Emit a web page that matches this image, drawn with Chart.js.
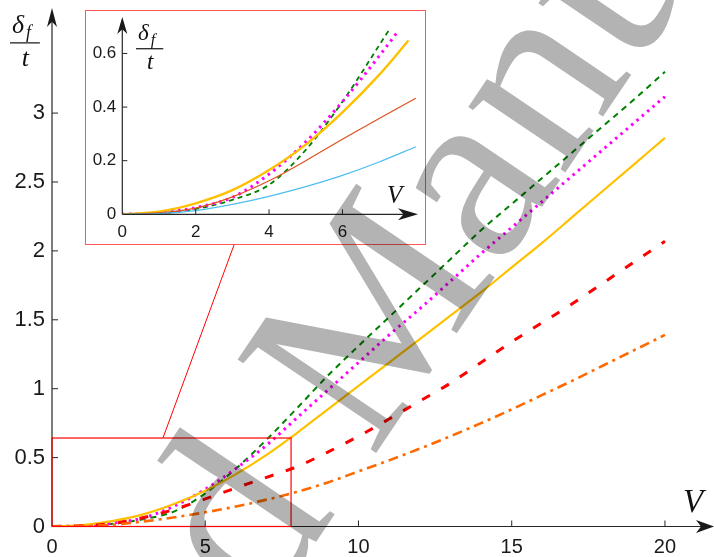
<!DOCTYPE html>
<html>
<head>
<meta charset="utf-8">
<script src="https://cdn.jsdelivr.net/npm/chart.js@4.4.0/dist/chart.umd.min.js"></script>
<style>
  html, body { margin: 0; padding: 0; background: #fff; }
  #wrap { position: relative; width: 714px; height: 557px; overflow: hidden; }
  #main { position: absolute; left: 0; top: 0; }
  #insetBox { position: absolute; left: 85px; top: 10px; width: 339px; height: 233px; border: 1px solid #f55; background: #fff; }
  #inset { position: absolute; left: 0; top: 0; }
  #mark { position: absolute; left: 0; top: 0; mix-blend-mode: multiply; pointer-events: none; }
</style>
</head>
<body>
<div id="wrap">
  <canvas id="main" width="714" height="557"></canvas>
  <div id="insetBox"><canvas id="inset" width="339" height="233"></canvas></div>
  <canvas id="mark" width="714" height="557"></canvas>
</div>
<script>
// main plot data, V = 0..20
const vValues = [0, 1, 2, 3, 4, 5, 6, 7, 8, 9, 10, 11, 12, 13, 14, 15, 16, 17, 18, 19, 20];
const greenDash = [0, 0.003, 0.02, 0.054, 0.11, 0.24, 0.42, 0.63, 0.86, 1.095, 1.31, 1.52, 1.73, 1.94, 2.15, 2.34, 2.53, 2.72, 2.91, 3.10, 3.30];
const magentaDot = [0, 0.005, 0.025, 0.063, 0.15, 0.27, 0.42, 0.59, 0.79, 0.99, 1.19, 1.39, 1.58, 1.78, 1.98, 2.17, 2.36, 2.55, 2.74, 2.93, 3.12];
const goldSolid = [0, 0.01, 0.041, 0.09, 0.165, 0.26, 0.38, 0.52, 0.68, 0.85, 1.02, 1.19, 1.36, 1.53, 1.70, 1.88, 2.06, 2.25, 2.44, 2.63, 2.82];
const redDash = [0, 0.005, 0.023, 0.065, 0.125, 0.2, 0.28, 0.357, 0.435, 0.54, 0.655, 0.78, 0.91, 1.04, 1.19, 1.34, 1.48, 1.62, 1.77, 1.92, 2.07];
const orangeDashDot = [0, 0.003, 0.014, 0.037, 0.067, 0.103, 0.145, 0.195, 0.252, 0.32, 0.40, 0.48, 0.565, 0.655, 0.75, 0.85, 0.955, 1.06, 1.17, 1.28, 1.39];

const xTicks = [0, 5, 10, 15, 20];
const yTicks = [0, 0.5, 1, 1.5, 2, 2.5, 3];

// inset: same curves up to V ~ 8, last point of each
const insetEndV = [7.3, 7.5, 7.8, 8, 8];      // green, magenta, gold, red, blue
const insetEndY = [0.694, 0.68, 0.648, 0.433, 0.252];
const insetXTicks = [0, 2, 4, 6];
const insetYTicks = [0, 0.2, 0.4, 0.6];

// zoom box on the main plot
const zoomBoxV = 7.8;
const zoomBoxY = 0.642;

Chart.defaults.font.family = "'Liberation Sans', Arial, sans-serif";

function pts(ys, n) {
  const out = [];
  for (let i = 0; i < n; i++) out.push({ x: vValues[i], y: ys[i] });
  return out;
}

function arrow(ctx, x, y, dx, dy, len, hw) {
  const px = -dy, py = dx;
  const bx = x - dx * len, by = y - dy * len;
  const nx = x - dx * len * 0.72, ny = y - dy * len * 0.72;
  ctx.beginPath();
  ctx.moveTo(x, y);
  ctx.lineTo(bx + px * hw, by + py * hw);
  ctx.lineTo(nx, ny);
  ctx.lineTo(bx - px * hw, by - py * hw);
  ctx.closePath();
  ctx.fill();
}

function drawAxes(chart, o) {
  const ctx = chart.ctx;
  const xs = chart.scales.x, ys = chart.scales.y;
  const x0 = xs.getPixelForValue(0), y0 = ys.getPixelForValue(0);
  ctx.save();
  ctx.strokeStyle = '#262626';
  ctx.fillStyle = '#1a1a1a';
  ctx.lineWidth = 1.2;
  ctx.beginPath();
  ctx.moveTo(x0, y0); ctx.lineTo(o.xTip - 4, y0);
  ctx.moveTo(x0, y0); ctx.lineTo(x0, o.yTip + 4);
  ctx.stroke();
  ctx.lineWidth = 1;
  ctx.beginPath();
  o.xt.forEach(v => { if (v === 0) return; const p = xs.getPixelForValue(v); ctx.moveTo(p, y0); ctx.lineTo(p, y0 - o.tick); });
  o.yt.forEach(v => { if (v === 0) return; const p = ys.getPixelForValue(v); ctx.moveTo(x0, p); ctx.lineTo(x0 + o.tick, p); });
  ctx.stroke();
  arrow(ctx, o.xTip, y0, 1, 0, o.xLen, o.xHw);
  arrow(ctx, x0, o.yTip, 0, -1, o.yLen, o.yHw);
  ctx.restore();
}

function fracLabel(ctx, x, yBase, size, subSize) {
  ctx.save();
  ctx.fillStyle = '#111';
  ctx.font = 'italic ' + size + 'px "Liberation Serif", "DejaVu Serif", serif';
  ctx.textBaseline = 'alphabetic';
  ctx.fillText('δ', x + 1, yBase);
  const w = ctx.measureText('δ').width;
  ctx.font = 'italic ' + subSize + 'px "Liberation Serif", serif';
  ctx.fillText('f', x + 1 + w + 2, yBase + subSize * 0.3);
  const total = w + subSize * 0.6 + 6;
  ctx.strokeStyle = '#111';
  ctx.lineWidth = 1.2;
  ctx.beginPath();
  ctx.moveTo(x - 1, yBase + size * 0.38);
  ctx.lineTo(x + total, yBase + size * 0.38);
  ctx.stroke();
  ctx.font = 'italic ' + size + 'px "Liberation Serif", serif';
  ctx.textAlign = 'center';
  ctx.fillText('t', x + total / 2, yBase + size * 1.25);
  ctx.restore();
}

const mainDecor = {
  id: 'mainDecor',
  afterDraw(chart) {
    const ctx = chart.ctx;
    drawAxes(chart, { xTip: 714, yTip: 8, xLen: 18, xHw: 6.5, yLen: 19, yHw: 5, tick: 6, xt: xTicks, yt: yTicks });
    const xs = chart.scales.x, ys = chart.scales.y;
    // zoom box and connector to inset
    ctx.save();
    ctx.strokeStyle = '#ff0000';
    ctx.lineWidth = 1.2;
    const l = xs.getPixelForValue(0), r = xs.getPixelForValue(zoomBoxV);
    const t = ys.getPixelForValue(zoomBoxY), b = ys.getPixelForValue(0);
    ctx.strokeRect(l, t, r - l, b - t);
    ctx.lineWidth = 1;
    ctx.beginPath();
    ctx.moveTo(xs.getPixelForValue(3.62), t);
    ctx.lineTo(234, 245);
    ctx.stroke();
    ctx.restore();
    fracLabel(ctx, 11, 33, 26, 18);
    ctx.save();
    ctx.fillStyle = '#111';
    ctx.font = 'italic 33px "Liberation Serif", serif';
    ctx.fillText('V', 683, 512);
    ctx.restore();
  }
};

const insetDecor = {
  id: 'insetDecor',
  afterDraw(chart) {
    const ctx = chart.ctx;
    drawAxes(chart, { xTip: 332, yTip: 6, xLen: 20, xHw: 6, yLen: 17, yHw: 5, tick: 5, xt: insetXTicks, yt: insetYTicks });
    fracLabel(ctx, 51, 29, 23, 16);
    ctx.save();
    ctx.fillStyle = '#111';
    ctx.font = 'italic 25px "Liberation Serif", serif';
    ctx.fillText('V', 301, 192);
    ctx.restore();
  }
};

function axisOpts(min, max, ticks, fitSize, isY, fontSize, pad) {
  return {
    type: 'linear', min: min, max: max,
    grid: { display: false, drawTicks: false },
    border: { display: false },
    afterBuildTicks: s => { s.ticks = ticks.map(v => ({ value: v })); },
    afterFit: s => {
      if (isY) s.width = fitSize; else s.height = fitSize;
      s.paddingTop = 0; s.paddingBottom = 0; s.paddingLeft = 0; s.paddingRight = 0;
    },
    ticks: { padding: pad, color: '#1a1a1a', maxRotation: 0, font: { size: fontSize }, callback: v => String(v) }
  };
}

const n = vValues.length;
new Chart(document.getElementById('main'), {
  type: 'line',
  data: {
    datasets: [
      { data: pts(orangeDashDot, n), borderColor: '#ff6a00', borderWidth: 2.6, borderDash: [10, 5, 3, 5] },
      { data: pts(redDash, n), borderColor: '#ff0000', borderWidth: 3, borderDash: [9, 13] },
      { data: pts(goldSolid, n), borderColor: '#ffc000', borderWidth: 2.2 },
      { data: pts(magentaDot, n), borderColor: '#ff00ff', borderWidth: 3, borderDash: [2.5, 4.5] },
      { data: pts(greenDash, n), borderColor: '#008000', borderWidth: 2, borderDash: [6, 5] }
    ]
  },
  options: {
    responsive: false, animation: false, devicePixelRatio: 1,
    layout: { padding: { top: 10, right: 0, left: 0, bottom: 0 } },
    plugins: { legend: { display: false }, tooltip: { enabled: false } },
    elements: { point: { radius: 0 }, line: { cubicInterpolationMode: 'monotone', fill: false } },
    scales: {
      x: axisOpts(0, 21.6, xTicks, 30.5, false, 20, 9),
      y: axisOpts(0, 3.748, yTicks, 52, true, 22, 7)
    }
  },
  plugins: [mainDecor]
});

function insetPts(ys, k) {
  const out = [];
  for (let i = 0; i < n && vValues[i] < insetEndV[k]; i++) out.push({ x: vValues[i], y: ys[i] });
  out.push({ x: insetEndV[k], y: insetEndY[k] });
  return out;
}

new Chart(document.getElementById('inset'), {
  type: 'line',
  data: {
    datasets: [
      { data: insetPts(orangeDashDot, 4), borderColor: '#4dbeee', borderWidth: 1.2 },
      { data: insetPts(redDash, 3), borderColor: '#e0501e', borderWidth: 1.2 },
      { data: insetPts(goldSolid, 2), borderColor: '#ffc000', borderWidth: 2.4 },
      { data: insetPts(magentaDot, 1), borderColor: '#ff00ff', borderWidth: 3, borderDash: [2.5, 4.5] },
      { data: insetPts(greenDash, 0), borderColor: '#008000', borderWidth: 1.8, borderDash: [5, 4] }
    ]
  },
  options: {
    responsive: false, animation: false, devicePixelRatio: 1,
    layout: { padding: { top: 6, right: 7, left: 0, bottom: 0 } },
    plugins: { legend: { display: false }, tooltip: { enabled: false } },
    elements: { point: { radius: 0 }, line: { cubicInterpolationMode: 'monotone', fill: false } },
    scales: {
      x: axisOpts(0, 8.06, insetXTicks, 29.7, false, 17, 8),
      y: axisOpts(0, 0.736, insetYTicks, 36.3, true, 17, 6)
    }
  },
  plugins: [insetDecor]
});

// grey watermark over everything
(function () {
  const c = document.getElementById('mark').getContext('2d');
  const S = 255, ang = -56 * Math.PI / 180;
  c.save();
  c.translate(372, 459);
  c.rotate(ang);
  c.font = S + 'px "Liberation Serif", "DejaVu Serif", serif';
  c.fillStyle = '#b3b3b3';
  const pre = c.measureText('Accepted ').width;
  c.fillText('Accepted Manuscript', -pre, 0);
  c.restore();
})();
</script>
</body>
</html>
